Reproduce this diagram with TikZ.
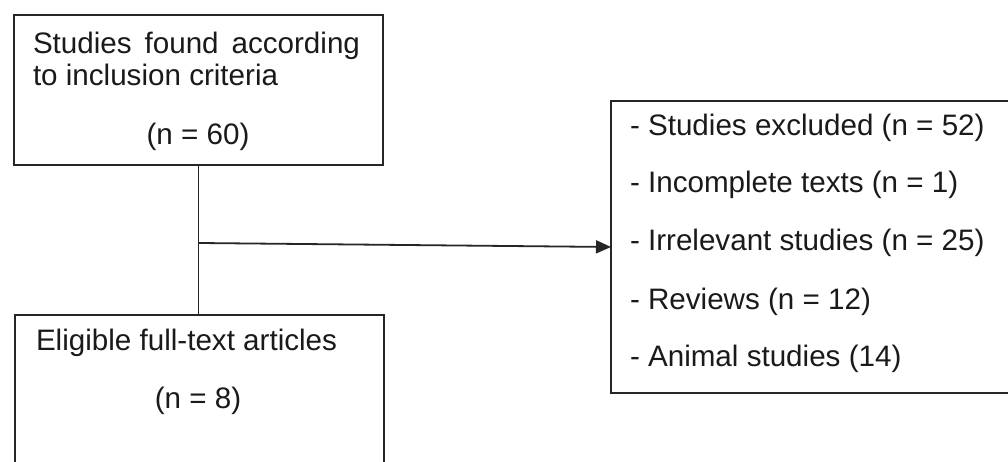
\documentclass[tikz,border=0pt]{standalone}
\usepackage{fontspec}
\setmainfont{Liberation Sans}
\usetikzlibrary{arrows.meta}
\definecolor{ink}{HTML}{262626}
\definecolor{textc}{HTML}{1A1A1A}
\begin{document}
\begin{tikzpicture}[x=1pt,y=-1pt,
  box/.style={draw=ink, line width=1.9pt, inner sep=0pt, outer sep=0pt},
  txt/.style={inner sep=0pt, outer sep=0pt, font=\fontsize{29.6}{33}\selectfont, text=textc},
  conn/.style={draw=ink, line width=1.8pt}]
\useasboundingbox (0,0) rectangle (1008,462);
\clip (0,0) rectangle (1008,462);
\fill[white] (0,0) rectangle (1008,462);
% boxes
\node[box, minimum width=369pt, minimum height=150pt] (box1) at (198.5,90) {};
\node[box, minimum width=369pt, minimum height=170pt] (box2) at (199.5,400) {};
\node[box, minimum width=404pt, minimum height=292pt] (box3) at (813,247) {};
% texts
\node[txt, anchor=base west] (t1a) at (33,54) {\makebox[327pt][s]{Studies found according}};
\node[txt, anchor=base west] (t1b) at (33,86) {to inclusion criteria};
\node[txt, anchor=base] (t1c) at (198,145) {(n = 60)};
\node[txt, anchor=base west] (t2a) at (36,350) {Eligible full-text articles};
\node[txt, anchor=base] (t2b) at (198,408) {(n = 8)};
\node[txt, anchor=base west] (t3a) at (630,136) {- Studies excluded (n = 52)};
\node[txt, anchor=base west] (t3b) at (630,193) {- Incomplete texts (n = 1)};
\node[txt, anchor=base west] (t3c) at (630,251) {- Irrelevant studies (n = 25)};
\node[txt, anchor=base west] (t3d) at (630,309) {- Reviews (n = 12)};
\node[txt, anchor=base west] (t3e) at (630,366) {- Animal studies (14)};
% connectors
\draw[conn] (box1.south) -- (box1.south |- box2.north);
\coordinate (j) at (199,243);
\draw[conn, -{Triangle[length=15pt,width=13pt]}] (j) -- (box3.west);
\end{tikzpicture}
\end{document}
